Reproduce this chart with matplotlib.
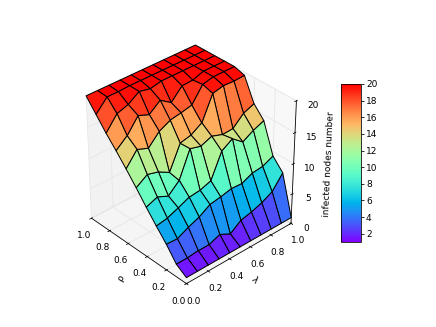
import numpy as np
import matplotlib
matplotlib.use('Agg')
import matplotlib.pyplot as plt

rho_vals = [0.0, 0.1, 0.2, 0.3, 0.4, 0.5, 0.6, 0.7, 0.8, 0.9, 1.0]
lam_vals = [0.0, 0.1, 0.2, 0.3, 0.4, 0.5, 0.6, 0.7, 0.8, 0.9, 1.0]
row_00 = [1, 1, 1, 1, 1, 1, 1, 1, 1, 1, 1]
row_01 = [2.1, 2.1, 2.3, 2.3, 3.0, 2.1, 3.4, 3.8, 4.4, 5.3, 7.5]
row_02 = [4.3, 4.2, 5.1, 5.8, 6.9, 7.2, 7.6, 7.5, 8.3, 8.5, 9.3]
row_03 = [6.2, 6.5, 7.2, 8.0, 8.2, 8.8, 12.7, 13.8, 12.4, 13.4, 14.1]
row_04 = [8.2, 8.9, 8.1, 9.7, 13.9, 13.4, 14.1, 13.5, 13.6, 15.2, 15.9]
row_05 = [10.3, 11.5, 11.0, 10.0, 13.8, 14.2, 15.3, 19.1, 19.5, 19.4, 19.5]
row_06 = [12.3, 14.5, 13.8, 15.6, 16.5, 16.8, 17.2, 19.6, 20, 20, 20]
row_07 = [14.2, 15.7, 18.0, 17.3, 18.7, 17.5, 19.3, 19.4, 20, 20, 20]
row_08 = [16.0, 18.2, 18.8, 20, 19.6, 20, 20, 20, 20, 20, 20]
row_09 = [18.0, 19.9, 19.9, 20, 20, 20, 20, 20, 20, 20, 20]
row_10 = [20, 20, 20, 20, 20, 20, 20, 20, 20, 20, 20]
z_ticks = [0, 5, 10, 15, 20]
cbar_ticks = [2, 4, 6, 8, 10, 12, 14, 16, 18, 20]

plt.rcParams['font.size'] = 9
plt.rcParams['grid.color'] = '#e6e6e6'
plt.rcParams['axes.linewidth'] = 0.8

Z = np.array([row_00, row_01, row_02, row_03, row_04, row_05, row_06, row_07, row_08, row_09, row_10])
X, Y = np.meshgrid(lam_vals, rho_vals)

fig = plt.figure(figsize=(436/72, 327/72), dpi=72)
ax = fig.add_axes([0.069, 0.045, 0.72, 0.9], projection='3d')
surf = ax.plot_surface(X, Y, Z, rstride=1, cstride=1, cmap='rainbow', vmin=1, vmax=20,
                       edgecolor='k', linewidth=1.0, antialiased=True, shade=False)
ax.view_init(elev=34.5, azim=-132.5)
ax.set_box_aspect((4, 4, 4.1), zoom=0.835)
ax.set_xlim(0, 1); ax.set_ylim(0, 1); ax.set_zlim(0, 20)
ax.set_xticks([0, .2, .4, .6, .8, 1.0])
ax.set_yticks([0, .2, .4, .6, .8, 1.0])
ax.set_zticks(z_ticks)
ax.set_xlabel('λ', labelpad=2, rotation=-45)
ax.set_ylabel('ρ', labelpad=3, rotation=60)
ax.zaxis._axinfo['juggled'] = (1, 2, 0)
ax.set_zlabel('infected nodes number', labelpad=5, rotation=90)
ax.tick_params(pad=3)
ax.zaxis.set_tick_params(pad=4)
for a, c in zip((ax.xaxis, ax.yaxis, ax.zaxis), ((.95, .95, .95, .5), (.9, .9, .9, .5), (.925, .925, .925, .5))):
    a.set_pane_color(c)
cax = fig.add_axes([341/436, 1-242/327, 20/436, 158/327])
cb = fig.colorbar(surf, cax=cax, ticks=cbar_ticks)
cb.ax.tick_params(length=3, pad=2)
fig.savefig('out.png', dpi=72)
